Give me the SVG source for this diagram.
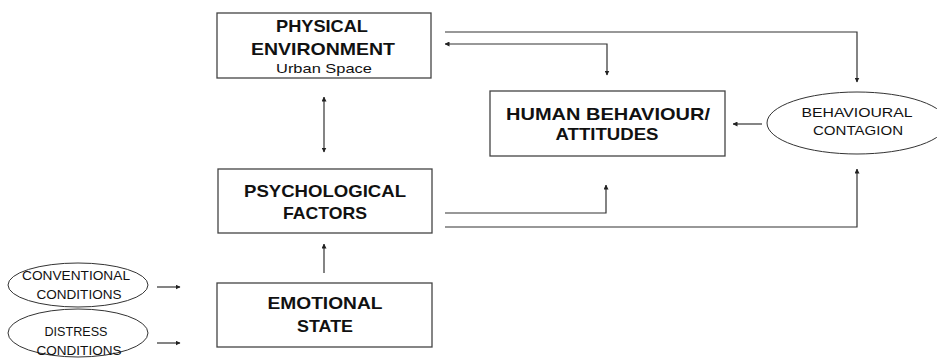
<svg xmlns="http://www.w3.org/2000/svg" width="937" height="360" viewBox="0 0 937 360">
<defs>
<marker id="ah" viewBox="0 0 10 10" refX="9" refY="5" markerWidth="5" markerHeight="5" markerUnits="userSpaceOnUse" orient="auto-start-reverse">
<path d="M0,0 L10,5 L0,10 z" fill="#222"/>
</marker>
<style>
.box{fill:#fff;stroke:#444;stroke-width:1.3}
.ell{fill:#fff;stroke:#333;stroke-width:1}
.b{font-family:"Liberation Sans",Arial,sans-serif;font-weight:bold;font-size:17px;fill:#111;text-anchor:middle}
.r{font-family:"Liberation Sans",Arial,sans-serif;font-size:13.5px;fill:#111;text-anchor:middle}
.s{font-family:"Liberation Sans",Arial,sans-serif;font-size:13px;fill:#111;text-anchor:middle}
.c{fill:none;stroke:#333;stroke-width:1.2}
</style>
</defs>
<rect width="937" height="360" fill="#fff"/>
<g id="connectors">
<path class="c" d="M445,32 H857 V82" marker-end="url(#ah)"/>
<path class="c" d="M445,44 H607 V75" marker-start="url(#ah)" marker-end="url(#ah)"/>
<path class="c" d="M324,97 V152" marker-start="url(#ah)" marker-end="url(#ah)"/>
<path class="c" d="M762,124 H733" marker-end="url(#ah)"/>
<path class="c" d="M445,213 H606 V185" marker-end="url(#ah)"/>
<path class="c" d="M445,227 H857 V169" marker-end="url(#ah)"/>
<path class="c" d="M324,273 V244" marker-end="url(#ah)"/>
<path class="c" d="M157,287 H180" marker-end="url(#ah)"/>
<path class="c" d="M157,343 H180" marker-end="url(#ah)"/>
</g>
<g id="physical">
<rect class="box" x="217" y="13" width="214" height="65"/>
<text class="b" x="322" y="32" textLength="92" lengthAdjust="spacingAndGlyphs">PHYSICAL</text>
<text class="b" x="323" y="55" textLength="144" lengthAdjust="spacingAndGlyphs">ENVIRONMENT</text>
<text class="r" x="324" y="73" font-size="15" textLength="96" lengthAdjust="spacingAndGlyphs">Urban Space</text>
</g>
<g id="human">
<rect class="box" x="490" y="91" width="235" height="65"/>
<text class="b" x="608" y="120" textLength="204" lengthAdjust="spacingAndGlyphs">HUMAN BEHAVIOUR/</text>
<text class="b" x="607" y="140" textLength="103" lengthAdjust="spacingAndGlyphs">ATTITUDES</text>
</g>
<g id="contagion">
<ellipse class="ell" cx="857" cy="123" rx="90" ry="31"/>
<text class="r" x="857" y="117" textLength="111" lengthAdjust="spacingAndGlyphs">BEHAVIOURAL</text>
<text class="r" x="858" y="135" textLength="90" lengthAdjust="spacingAndGlyphs">CONTAGION</text>
</g>
<g id="psychological">
<rect class="box" x="218" y="169" width="214" height="64"/>
<text class="b" x="325" y="197" textLength="162" lengthAdjust="spacingAndGlyphs">PSYCHOLOGICAL</text>
<text class="b" x="325" y="219" textLength="84" lengthAdjust="spacingAndGlyphs">FACTORS</text>
</g>
<g id="emotional">
<rect class="box" x="217" y="283" width="215" height="64"/>
<text class="b" x="325" y="309" textLength="115" lengthAdjust="spacingAndGlyphs">EMOTIONAL</text>
<text class="b" x="325" y="332" textLength="56" lengthAdjust="spacingAndGlyphs">STATE</text>
</g>
<g id="conventional">
<ellipse class="ell" cx="78" cy="285" rx="70" ry="22"/>
<text class="s" x="76" y="280" textLength="108" lengthAdjust="spacingAndGlyphs">CONVENTIONAL</text>
<text class="s" x="79" y="299" textLength="85" lengthAdjust="spacingAndGlyphs">CONDITIONS</text>
</g>
<g id="distress">
<ellipse class="ell" cx="78" cy="333" rx="70" ry="24"/>
<text class="s" x="76" y="336" textLength="63" lengthAdjust="spacingAndGlyphs">DISTRESS</text>
<text class="s" x="79" y="355" textLength="85" lengthAdjust="spacingAndGlyphs">CONDITIONS</text>
</g>
</svg>
